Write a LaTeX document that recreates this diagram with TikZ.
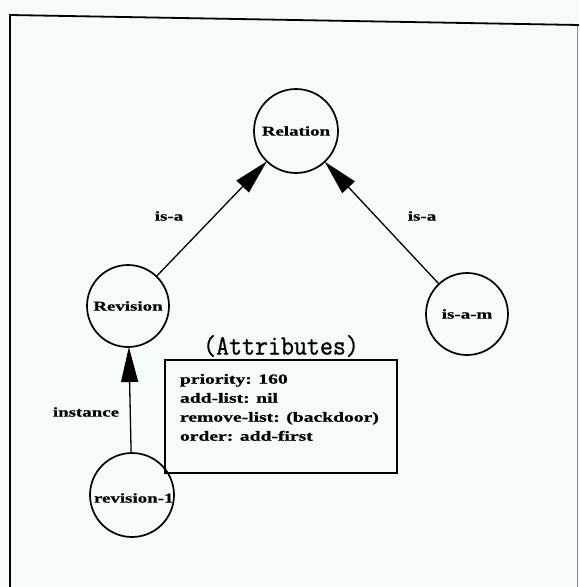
\documentclass[tikz,border=0pt]{standalone}
\usepackage{fontspec}
\newfontfamily\lblfont[FakeStretch=1.4,FakeBold=0.6]{Liberation Serif}
\newfontfamily\ttlfont[FakeStretch=0.9,FakeBold=0.8]{Latin Modern Mono}
\usetikzlibrary{arrows.meta}

\begin{document}
\begin{tikzpicture}[x=1pt,y=-1pt,
  every node/.style={inner sep=0pt, outer sep=0pt},
  obj/.style={circle, draw, line width=1.7pt, minimum size=#1},
  lbl/.style={font=\lblfont\bfseries\fontsize{13.5}{16}\selectfont},
  boxtxt/.style={font=\lblfont\bfseries\fontsize{14}{19}\selectfont, align=left},
  conn/.style={line width=1.3pt, -{Triangle[length=35pt,width=17pt]}},
  frame/.style={line width=1.8pt}]

  % page and outer frame
  \fill[white!96!teal] (0,0) rectangle (579,587);
  \useasboundingbox (0,0) rectangle (579,587);
  \coordinate (ftl) at (10,15);
  \coordinate (ftr) at (579,25);
  \coordinate (fbl) at (10,587);
  \draw[frame] (fbl) -- (ftl) -- (ftr);
  \draw[line width=1pt, black!45] (577,26) -- (577,587);

  % objects
  \node[obj=84pt] (relation) at (296,131) {};
  \node[lbl] at (relation) {Relation};
  \node[obj=82pt] (revision) at (128,306) {};
  \node[lbl] at (revision) {Revision};
  \node[obj=82pt] (isam) at (467,314) {};
  \node[lbl] at (isam) {is-a-m};
  \node[obj=84pt] (revc) at (132,495) {};
  \begin{scope}
    \clip (revc.center) circle (41pt);
    \node[lbl, anchor=west] (revclbl) at (94,498) {revision-1};
  \end{scope}

  % relations
  \draw[conn] (revision) -- (relation);
  \draw[conn] (isam) -- (relation);
  \draw[conn] (revc) -- (revision);
  \node[lbl] (isa1) at (169,216) {is-a};
  \node[lbl] (isa2) at (422,216) {is-a};
  \node[lbl] (inst) at (86,412) {instance};

  % attribute box
  \node[font=\ttlfont\fontsize{28}{30}\selectfont] (attrtitle) at (281,346) {(Attributes)};
  \draw[line width=1.7pt] (165,360) rectangle (397,473);
  \node[boxtxt, anchor=north west] (attrs) at (180,374)
    {priority: 160\\add-list: nil\\remove-list: (backdoor)\\order: add-first};
\end{tikzpicture}
\end{document}
